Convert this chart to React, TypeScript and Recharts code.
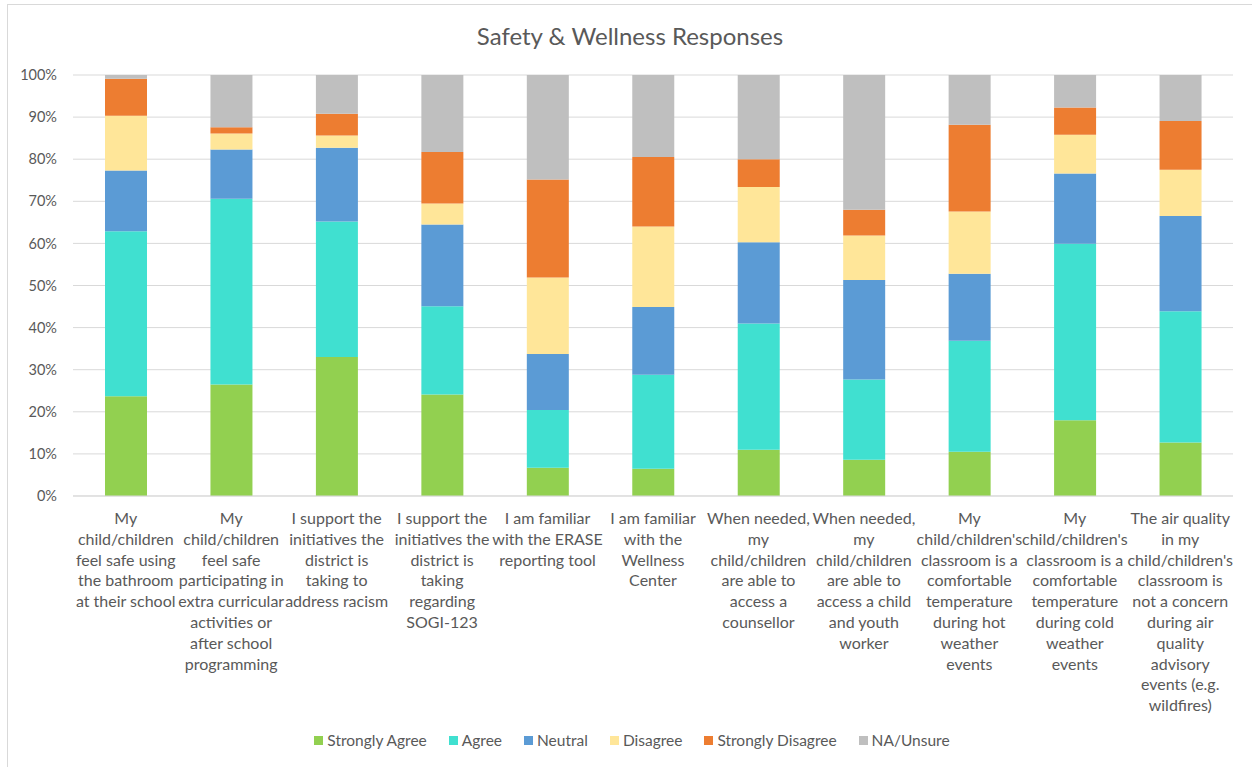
import { Bar, BarChart, CartesianGrid, XAxis, YAxis } from "recharts";

// question labels, wrapped as in the original
const questions = [
  "My\nchild/children\nfeel safe using\nthe bathroom\nat their school",
  "My\nchild/children\nfeel safe\nparticipating in\nextra curricular\nactivities or\nafter school\nprogramming",
  "I support the\ninitiatives the\ndistrict is\ntaking to\naddress racism",
  "I support the\ninitiatives the\ndistrict is\ntaking\nregarding\nSOGI-123",
  "I am familiar\nwith the ERASE\nreporting tool",
  "I am familiar\nwith the\nWellness\nCenter",
  "When needed,\nmy\nchild/children\nare able to\naccess a\ncounsellor",
  "When needed,\nmy\nchild/children\nare able to\naccess a child\nand youth\nworker",
  "My\nchild/children's\nclassroom is a\ncomfortable\ntemperature\nduring hot\nweather\nevents",
  "My\nchild/children's\nclassroom is a\ncomfortable\ntemperature\nduring cold\nweather\nevents",
  "The air quality\nin my\nchild/children's\nclassroom is\nnot a concern\nduring air\nquality\nadvisory\nevents (e.g.\nwildfires)",
];

const stronglyAgree = [23.7, 26.5, 33.0, 24.1, 6.7, 6.5, 11.0, 8.6, 10.5, 18.0, 12.7];
const agree = [39.2, 44.1, 32.2, 21.0, 13.7, 22.3, 30.0, 19.1, 26.4, 41.9, 31.2];
const neutral = [14.4, 11.7, 17.5, 19.4, 13.3, 16.1, 19.3, 23.6, 15.9, 16.7, 22.6];
const disagree = [13.0, 3.8, 2.9, 5.0, 18.2, 19.1, 13.1, 10.6, 14.8, 9.2, 11.0];
const stronglyDisagree = [8.8, 1.5, 5.2, 12.2, 23.3, 16.5, 6.6, 6.1, 20.6, 6.5, 11.6];
const naUnsure = [0.9, 12.4, 9.2, 18.3, 24.8, 19.5, 20.0, 32.0, 11.8, 7.7, 10.9];

const yTicks = [0, 10, 20, 30, 40, 50, 60, 70, 80, 90, 100];

const series = [
  { key: "sa", name: "Strongly Agree", values: stronglyAgree, color: "#92d050" },
  { key: "a", name: "Agree", values: agree, color: "#40e0d0" },
  { key: "n", name: "Neutral", values: neutral, color: "#5b9bd5" },
  { key: "d", name: "Disagree", values: disagree, color: "#ffe699" },
  { key: "sd", name: "Strongly Disagree", values: stronglyDisagree, color: "#ed7d31" },
  { key: "na", name: "NA/Unsure", values: naUnsure, color: "#bfbfbf" },
];

const data = questions.map((q, i) => {
  const row: Record<string, string | number> = { q };
  series.forEach((s) => (row[s.key] = s.values[i]));
  return row;
});

const font = "Lato, 'Open Sans', sans-serif";
const textColor = "#595959";

function QuestionTick({ x, y, payload }: any) {
  const lines = String(payload.value).split("\n");
  return (
    <text
      x={x}
      y={y}
      textAnchor="middle"
      fill={textColor}
      fontSize={16}
      fontFamily={font}
    >
      {lines.map((line, i) => (
        <tspan key={i} x={x} dy={i === 0 ? 20 : 20.8}>
          {line}
        </tspan>
      ))}
    </text>
  );
}

export default function App() {
  return (
    <div style={{ position: "absolute", left: 0, top: 0, width: 1252, height: 767, background: "#fff", fontFamily: font }}>
      <div
        style={{
          position: "absolute",
          left: 7,
          top: 4,
          right: -2,
          bottom: -2,
          borderLeft: "1px solid #d9d9d9",
          borderTop: "1px solid #d9d9d9",
        }}
      />
      <div
        style={{
          position: "absolute",
          top: 21,
          left: 0,
          width: 1260,
          textAlign: "center",
          fontSize: 24,
          color: textColor,
        }}
      >
        Safety &amp; Wellness Responses
      </div>
      <div style={{ position: "absolute", left: 0, top: 0 }}>
        <BarChart
          width={1252}
          height={767}
          data={data}
          margin={{ top: 75, right: 19, bottom: 56, left: 0 }}
        >
          <CartesianGrid vertical={false} stroke="#d9d9d9" />
          <XAxis
            dataKey="q"
            interval={0}
            height={215}
            tickLine={false}
            axisLine={{ stroke: "#d9d9d9" }}
            tick={<QuestionTick />}
          />
          <YAxis
            width={73}
            domain={[0, 100]}
            ticks={yTicks}
            allowDataOverflow
            axisLine={false}
            tickLine={false}
            tickSize={0}
            tickMargin={16}
            tickFormatter={(v) => `${v}%`}
            tick={{ fill: textColor, fontSize: 14.5, fontFamily: font }}
          />
          {series.map((s) => (
            <Bar
              key={s.key}
              dataKey={s.key}
              name={s.name}
              stackId="all"
              fill={s.color}
              barSize={42}
              isAnimationActive={false}
            />
          ))}
        </BarChart>
      </div>
      <div
        style={{
          position: "absolute",
          top: 731,
          left: 0,
          width: 1264,
          display: "flex",
          justifyContent: "center",
          gap: 22,
          fontSize: 15.5,
          color: textColor,
        }}
      >
        {series.map((s) => (
          <span key={s.key} style={{ display: "flex", alignItems: "center", gap: 4 }}>
            <i style={{ display: "inline-block", width: 9, height: 9, background: s.color }} />
            {s.name}
          </span>
        ))}
      </div>
    </div>
  );
}
